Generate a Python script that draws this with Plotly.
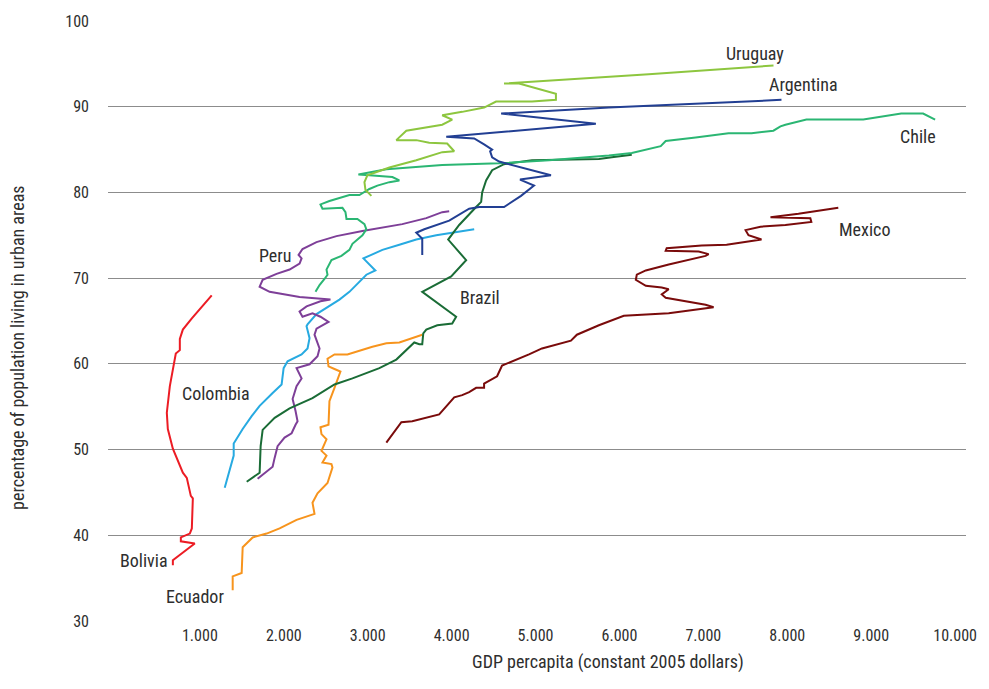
import plotly.graph_objects as go

# GDP per capita (constant 2005 dollars) and urban population share (%) by country
bolivia_gdp = [678, 678, 939, 773, 773, 880, 904, 916, 892, 844, 797, 678, 618, 606, 642, 678, 713, 761, 761, 797, 904, 1141]
bolivia_urb = [36.5, 37.1, 39.05, 39.3, 39.75, 40.2, 40.8, 44.3, 44.6, 46.7, 47.3, 50.1, 52.4, 54.3, 57.4, 59.4, 61.2, 61.6, 62.9, 64.0, 65.3, 68.0]

colombia_gdp = [1296, 1355, 1403, 1403, 1510, 1617, 1712, 1867, 1974, 1998, 2045, 2212, 2283, 2307, 2271, 2283, 2390, 2663, 2782, 2984, 3091, 2949, 3175, 3377, 3579, 3817, 4269]
colombia_urb = [45.55, 47.5, 49.3, 50.7, 52.4, 53.9, 55.1, 56.6, 57.6, 59.5, 60.3, 61.1, 61.8, 63.0, 64.4, 64.6, 65.8, 67.5, 68.4, 70.4, 70.9, 72.3, 73.3, 73.9, 74.5, 75.0, 75.7]

peru_gdp = [1688, 1867, 1890, 1926, 2009, 2093, 2140, 2164, 2140, 2105, 2152, 2212, 2152, 2307, 2402, 2426, 2366, 2390, 2533, 2437, 2342, 2223, 2188, 2271, 2437, 2556, 2188, 1831, 1712, 1748, 1914, 2069, 2188, 2212, 2176, 2223, 2390, 2628, 2937, 3175, 3412, 3698, 3888, 3971]
peru_urb = [46.6, 48.0, 49.0, 50.4, 51.4, 51.9, 52.9, 53.3, 54.5, 55.9, 57.4, 58.3, 59.5, 59.95, 60.9, 61.8, 63.4, 64.1, 64.9, 65.5, 65.9, 65.5, 66.1, 66.7, 67.3, 67.5, 67.8, 68.4, 69.0, 69.8, 70.5, 71.0, 71.7, 72.3, 72.7, 73.4, 74.2, 74.9, 75.5, 75.9, 76.3, 77.0, 77.7, 77.8]

ecuador_gdp = [1391, 1391, 1498, 1510, 1629, 1795, 1950, 2152, 2366, 2342, 2402, 2521, 2580, 2568, 2461, 2509, 2449, 2509, 2449, 2437, 2533, 2544, 2604, 2675, 2604, 2533, 2521, 2604, 2758, 3056, 3222, 3377, 3650]
ecuador_urb = [33.6, 35.2, 35.6, 38.6, 39.75, 40.2, 40.8, 41.8, 42.5, 43.8, 44.9, 46.1, 47.9, 48.3, 48.5, 49.3, 49.85, 51.2, 51.8, 52.6, 52.9, 55.65, 57.2, 59.1, 59.4, 59.7, 60.6, 61.1, 61.1, 62.0, 62.4, 62.5, 63.4]

brazil_gdp = [1558, 1712, 1724, 1748, 1891, 2069, 2342, 2604, 2818, 3139, 3341, 3555, 3615, 3650, 3662, 3698, 3829, 4007, 4054, 3650, 3995, 4173, 3959, 4090, 4292, 4352, 4364, 4411, 4483, 4625, 4958, 5755, 5909, 6147]
brazil_urb = [46.25, 47.3, 50.4, 52.3, 53.7, 54.8, 56.0, 57.6, 58.3, 59.5, 60.5, 62.5, 62.3, 62.3, 63.55, 64.0, 64.5, 64.7, 65.5, 68.4, 70.2, 72.1, 74.5, 76.2, 78.3, 78.9, 80.0, 81.4, 82.6, 83.3, 83.75, 83.9, 84.1, 84.4]

mexico_gdp = [3222, 3401, 3531, 3710, 3852, 4031, 4126, 4209, 4292, 4387, 4387, 4542, 4601, 4922, 5077, 5422, 5493, 5755, 6052, 6587, 7122, 7027, 6551, 6504, 6587, 6504, 6314, 6195, 6207, 6314, 6587, 7027, 7063, 6944, 6551, 6563, 6980, 7277, 7693, 7538, 7503, 7681, 7978, 8287, 8275, 7800, 8133, 8608]
mexico_urb = [50.8, 53.2, 53.3, 53.7, 54.1, 56.1, 56.35, 56.7, 57.2, 57.2, 57.7, 58.55, 59.8, 61.1, 61.8, 62.7, 63.4, 64.5, 65.6, 65.9, 66.6, 66.9, 67.7, 68.1, 68.7, 68.9, 69.1, 69.8, 70.4, 70.9, 71.6, 72.6, 72.8, 73.1, 73.2, 73.5, 73.8, 73.9, 74.5, 75.0, 75.6, 76.0, 76.2, 76.55, 77.0, 77.1, 77.5, 78.2]

chile_gdp = [2378, 2426, 2485, 2521, 2509, 2568, 2687, 2782, 2818, 2937, 2984, 2961, 2877, 2747, 2735, 2699, 2461, 2437, 2544, 2782, 2901, 3020, 3115, 3258, 3377, 3294, 3020, 2889, 3222, 3888, 4566, 5160, 5874, 6147, 6492, 6551, 6908, 7300, 7574, 7835, 7919, 7978, 8228, 8906, 9358, 9619, 9762]
chile_urb = [68.4, 69.2, 69.9, 70.4, 71.0, 72.1, 72.6, 73.3, 74.0, 75.0, 75.7, 76.3, 76.9, 76.9, 77.7, 78.2, 78.1, 78.6, 79.0, 79.7, 79.7, 80.4, 80.8, 81.2, 81.4, 81.8, 82.0, 82.1, 82.7, 83.2, 83.4, 83.75, 84.3, 84.6, 85.4, 86.0, 86.4, 86.9, 86.9, 87.2, 87.7, 87.9, 88.5, 88.5, 89.2, 89.2, 88.5]

uruguay_gdp = [3044, 2973, 2961, 2996, 3258, 3579, 3888, 4031, 3947, 3733, 3579, 3341, 3460, 3733, 3888, 4007, 3888, 4126, 4387, 4530, 4958, 5243, 5243, 4804, 4625, 6349, 7836]
uruguay_urb = [79.6, 80.3, 81.2, 82.0, 82.9, 83.75, 84.7, 84.8, 85.7, 85.8, 86.1, 86.1, 87.2, 87.6, 87.9, 88.5, 89.0, 89.4, 89.9, 90.6, 90.6, 90.8, 91.5, 92.7, 92.7, 93.8, 94.8]

argentina_gdp = [3650, 3650, 3579, 3674, 3971, 4209, 4328, 4625, 4827, 4982, 4815, 5184, 4566, 4483, 4459, 4483, 4387, 4269, 3936, 5719, 4590, 5874, 7931]
argentina_urb = [72.7, 74.6, 75.3, 75.7, 76.7, 78.1, 78.3, 78.3, 79.6, 80.8, 81.5, 82.0, 83.6, 84.1, 84.8, 85.0, 85.6, 86.3, 86.5, 88.0, 89.2, 89.9, 90.8]

# Country name, series, line colour, label anchor (gdp, urban share)
countries = [
    ("Bolivia", bolivia_gdp, bolivia_urb, "#ec1c24", (330, 37.1)),
    ("Colombia", colombia_gdp, colombia_urb, "#27aae1", (1190, 56.6)),
    ("Peru", peru_gdp, peru_urb, "#7e3f98", (1900, 72.6)),
    ("Ecuador", ecuador_gdp, ecuador_urb, "#f7941d", (940, 32.9)),
    ("Brazil", brazil_gdp, brazil_urb, "#1a6c36", (4340, 67.8)),
    ("Mexico", mexico_gdp, mexico_urb, "#7a0b0b", (8920, 75.7)),
    ("Chile", chile_gdp, chile_urb, "#2bb673", (9560, 86.5)),
    ("Uruguay", uruguay_gdp, uruguay_urb, "#8dc63f", (7620, 96.2)),
    ("Argentina", argentina_gdp, argentina_urb, "#223f93", (8190, 92.6)),
]

x_tick_vals = [1000, 2000, 3000, 4000, 5000, 6000, 7000, 8000, 9000, 10000]
x_tick_text = ["1.000", "2.000", "3.000", "4.000", "5.000", "6.000", "7.000", "8.000", "9.000", "10.000"]
y_tick_vals = [30, 40, 50, 60, 70, 80, 90, 100]

FONT = "Liberation Sans Narrow, Roboto Condensed, Roboto, sans-serif"
TEXT = "#2e2e2e"

fig = go.Figure()
for name, gx, gy, color, (lx, ly) in countries:
    fig.add_trace(go.Scatter(
        x=gx, y=gy, mode="lines", name=name,
        line=dict(color=color, width=2),
        showlegend=False, hoverinfo="name+x+y",
    ))
    fig.add_annotation(x=lx, y=ly, text=name, showarrow=False,
                       font=dict(family=FONT, size=18, color=TEXT))

fig.update_layout(
    width=989, height=689,
    margin=dict(l=108, r=21, t=18, b=68),
    paper_bgcolor="white", plot_bgcolor="white",
    font=dict(family=FONT, size=16, color=TEXT),
    xaxis=dict(
        range=[-95, 10130], tickvals=x_tick_vals, ticktext=x_tick_text,
        showgrid=False, zeroline=False, showline=False, ticks="",
        ticklabelstandoff=3, tickfont=dict(size=16),
    ),
    yaxis=dict(
        range=[30, 100], tickvals=y_tick_vals,
        showgrid=True, gridcolor="#8c8c8c", gridwidth=1,
        zeroline=False, showline=False, ticks="",
        ticklabelstandoff=18, tickfont=dict(size=16),
    ),
    annotations=list(fig.layout.annotations) + [
        dict(text="GDP percapita (constant 2005 dollars)", xref="paper", yref="paper",
             x=0.583, y=-0.046, yanchor="top", showarrow=False,
             font=dict(family=FONT, size=18, color=TEXT)),
        dict(text="percentage of population living in urban areas", xref="paper", yref="paper",
             x=-0.105, y=0.455, xanchor="center", textangle=-90, showarrow=False,
             font=dict(family=FONT, size=18, color=TEXT)),
    ],
)

fig.write_html("out.html")
